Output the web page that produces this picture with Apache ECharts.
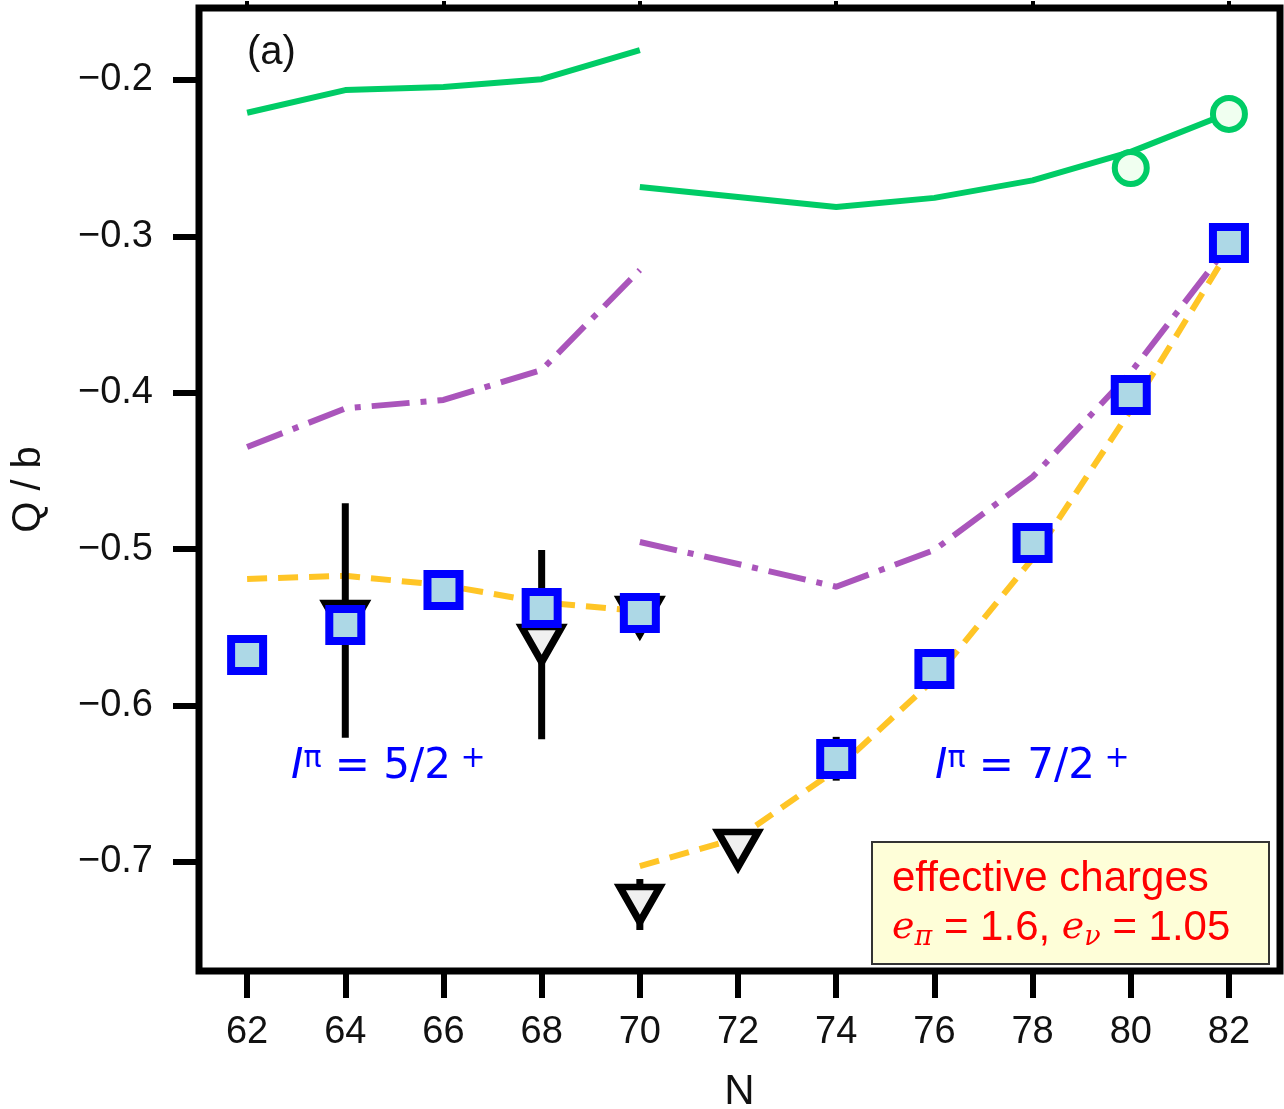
<!DOCTYPE html>
<html>
<head>
<meta charset="utf-8">
<script src="https://cdn.jsdelivr.net/npm/echarts@6/dist/echarts.min.js"></script>
<style>
  html, body { margin: 0; padding: 0; background: #ffffff; }
  #chart { width: 1284px; height: 1109px; }
</style>
</head>
<body>
<div id="chart"></div>
<script>
// Axis ticks
const nTicks = [62, 64, 66, 68, 70, 72, 74, 76, 78, 80, 82];
const nTopTicks = [62, 66, 70, 74, 78, 82];
const qTicks = [-0.7, -0.6, -0.5, -0.4, -0.3, -0.2];

// Shell-model curves (two branches: 5/2+ for N<=70, 7/2+ for N>=70)
const nLow = [62, 64, 66, 68, 70];
const nHigh = [70, 72, 74, 76, 78, 80, 82];
const greenLow = [-0.221, -0.2065, -0.2045, -0.1995, -0.181];
const greenHigh = [-0.2685, -0.2748, -0.2812, -0.2754, -0.2642, -0.246, -0.2211];
const purpleLow = [-0.4347, -0.410, -0.4046, -0.3854, -0.3215];
const purpleHigh = [-0.4954, -0.5095, -0.524, -0.5005, -0.4538, -0.387, -0.3055];
const orangeLow = [-0.519, -0.517, -0.523, -0.534, -0.5395];
const orangeHigh = [-0.7026, -0.6847, -0.641, -0.583, -0.506, -0.411, -0.3087];

// Measured quadrupole moments (squares)
const squareN = [62, 64, 66, 68, 70, 74, 76, 78, 80, 82];
const squareQ = [-0.5677, -0.5485, -0.5261, -0.5376, -0.5408, -0.6341, -0.5766, -0.496, -0.4014, -0.3042];

// Other experimental values (down triangles)
const triN = [64, 68, 70, 70, 72];
const triQ = [-0.5456, -0.561, -0.543, -0.7272, -0.692];

// Error bars
const errN = [64, 68, 70, 74];
const errQ = [-0.5456, -0.561, -0.7272, -0.634];
const errD = [0.075, 0.0605, 0.0163, 0.014];

// Open circles
const circleN = [80, 82];
const circleQ = [-0.2563, -0.2217];

const pairs = (xs, ys) => xs.map((x, i) => [x, ys[i]]);

const GREEN = '#00cc66';
const PURPLE = '#aa55bb';
const ORANGE = '#ffc526';
const BLUE = '#0000ff';
const RED = '#ff0000';
const SANS = 'Liberation Sans, Arial, sans-serif';

function curve(xs, ys, color, type, width) {
  return {
    type: 'line',
    data: pairs(xs, ys),
    symbol: 'none',
    z: 2,
    silent: true,
    lineStyle: { color: color, width: width, type: type, cap: 'butt', opacity: 1 }
  };
}

const chart = echarts.init(document.getElementById('chart'), null, { renderer: 'canvas' });

const spinLabel = (x, text) => ({
  type: 'text', z: 10, silent: true,
  style: {
    x: x, y: 767, align: 'left', verticalAlign: 'middle',
    text: text,
    rich: {
      i: { fontFamily: 'DejaVu Sans', fontStyle: 'italic', fontSize: 42, lineHeight: 46, fill: BLUE },
      n: { fontFamily: 'DejaVu Sans', fontSize: 42, lineHeight: 46, fill: BLUE },
      s: { fontFamily: 'DejaVu Sans', fontSize: 30, lineHeight: 19, verticalAlign: 'top', fill: BLUE }
    }
  }
});

const option = {
  animation: false,
  backgroundColor: '#ffffff',
  grid: {
    left: 199, right: 4, top: 8, bottom: 138,
    outerBoundsMode: 'none', containLabel: false,
    show: true, borderColor: '#000000', borderWidth: 7, backgroundColor: 'transparent'
  },
  xAxis: [
    {
      type: 'value', min: 61.02, max: 83.04, position: 'bottom',
      name: 'N', nameLocation: 'middle', nameGap: 100,
      nameTextStyle: { fontFamily: SANS, fontSize: 42, color: '#111' },
      axisLine: { show: false },
      splitLine: { show: false },
      axisTick: { show: true, inside: false, length: 27, customValues: nTicks, lineStyle: { color: '#000', width: 6 } },
      axisLabel: { show: true, customValues: nTicks, margin: 43, fontFamily: SANS, fontSize: 38, color: '#111' }
    },
    {
      type: 'value', min: 61.02, max: 83.04, position: 'top',
      axisLine: { show: false },
      splitLine: { show: false },
      axisTick: { show: true, inside: false, length: 7, customValues: nTopTicks, lineStyle: { color: '#000', width: 4 } },
      axisLabel: { show: false }
    }
  ],
  yAxis: {
    type: 'value', min: -0.7697, max: -0.154,
    name: 'Q / b', nameLocation: 'middle', nameGap: 150, nameRotate: 90,
    nameTextStyle: { fontFamily: SANS, fontSize: 40, color: '#111' },
    axisLine: { show: false },
    splitLine: { show: false },
    axisTick: { show: true, inside: false, length: 26, customValues: qTicks, lineStyle: { color: '#000', width: 6 } },
    axisLabel: {
      show: true, customValues: qTicks, margin: 46, fontFamily: SANS, fontSize: 38, color: '#111',
      formatter: v => v.toFixed(1).replace('-', '\u2212')
    }
  },
  series: [
    curve(nLow, greenLow, GREEN, 'solid', 6),
    curve(nHigh, greenHigh, GREEN, 'solid', 6),
    curve(nLow, purpleLow, PURPLE, [38, 11, 6, 11], 6),
    curve(nHigh, purpleHigh, PURPLE, [38, 11, 6, 11], 6),
    curve(nLow, orangeLow, ORANGE, [20, 11], 6),
    curve(nHigh, orangeHigh, ORANGE, [20, 11], 6),
    {
      type: 'custom',
      z: 3,
      silent: true,
      data: errN.map((n, i) => [n, errQ[i] - errD[i], errQ[i] + errD[i]]),
      encode: { x: 0, y: [1, 2] },
      renderItem: function (params, api) {
        const a = api.coord([api.value(0), api.value(1)]);
        const b = api.coord([api.value(0), api.value(2)]);
        return {
          type: 'line',
          shape: { x1: a[0], y1: a[1], x2: b[0], y2: b[1] },
          style: { stroke: '#000000', lineWidth: 7 }
        };
      }
    },
    {
      type: 'scatter',
      z: 4,
      silent: true,
      data: pairs(triN, triQ),
      symbol: 'triangle',
      symbolRotate: 180,
      symbolSize: [40, 35],
      itemStyle: { color: '#f0f0f0', borderColor: '#000000', borderWidth: 7, borderJoin: 'miter', borderMiterLimit: 3, opacity: 1 }
    },
    {
      type: 'scatter',
      z: 5,
      silent: true,
      data: pairs(squareN, squareQ),
      symbol: 'rect',
      symbolSize: 32,
      itemStyle: { color: '#add8e6', borderColor: BLUE, borderWidth: 8, borderJoin: 'miter', opacity: 1 }
    },
    {
      type: 'scatter',
      z: 5,
      silent: true,
      data: pairs(circleN, circleQ),
      symbol: 'circle',
      symbolSize: 32,
      itemStyle: { color: '#f0fff0', borderColor: GREEN, borderWidth: 6, opacity: 1 }
    }
  ],
  graphic: [
    {
      type: 'text', z: 10, silent: true,
      style: { x: 247, y: 53, text: '(a)', font: '40px ' + SANS, fill: '#111', align: 'left', verticalAlign: 'middle' }
    },
    spinLabel(291, '{i|I}{s|\u03c0}{n| = 5/2}{s| +}'),
    spinLabel(935, '{i|I}{s|\u03c0}{n| = 7/2}{s| +}'),
    {
      type: 'rect', z: 9, silent: true,
      shape: { x: 872, y: 842, width: 397, height: 122 },
      style: { fill: '#fefed8', stroke: '#333333', lineWidth: 2 }
    },
    {
      type: 'text', z: 10, silent: true,
      style: { x: 892, y: 879, text: 'effective charges', font: '42px ' + SANS, fill: RED, align: 'left', verticalAlign: 'middle' }
    },
    {
      type: 'text', z: 10, silent: true,
      style: {
        x: 892, y: 928, align: 'left', verticalAlign: 'middle',
        text: '{e|e}{b|\u03c0}{t| = 1.6, }{e|e}{b|\u03bd}{t| = 1.05}',
        rich: {
          e: { fontFamily: 'DejaVu Serif', fontStyle: 'italic', fontSize: 38, lineHeight: 46, fill: RED },
          t: { fontFamily: SANS, fontSize: 42, lineHeight: 46, fill: RED },
          b: { fontFamily: 'DejaVu Serif', fontStyle: 'italic', fontSize: 27, lineHeight: 20, verticalAlign: 'bottom', fill: RED }
        }
      }
    }
  ]
};

chart.setOption(option);
</script>
</body>
</html>
